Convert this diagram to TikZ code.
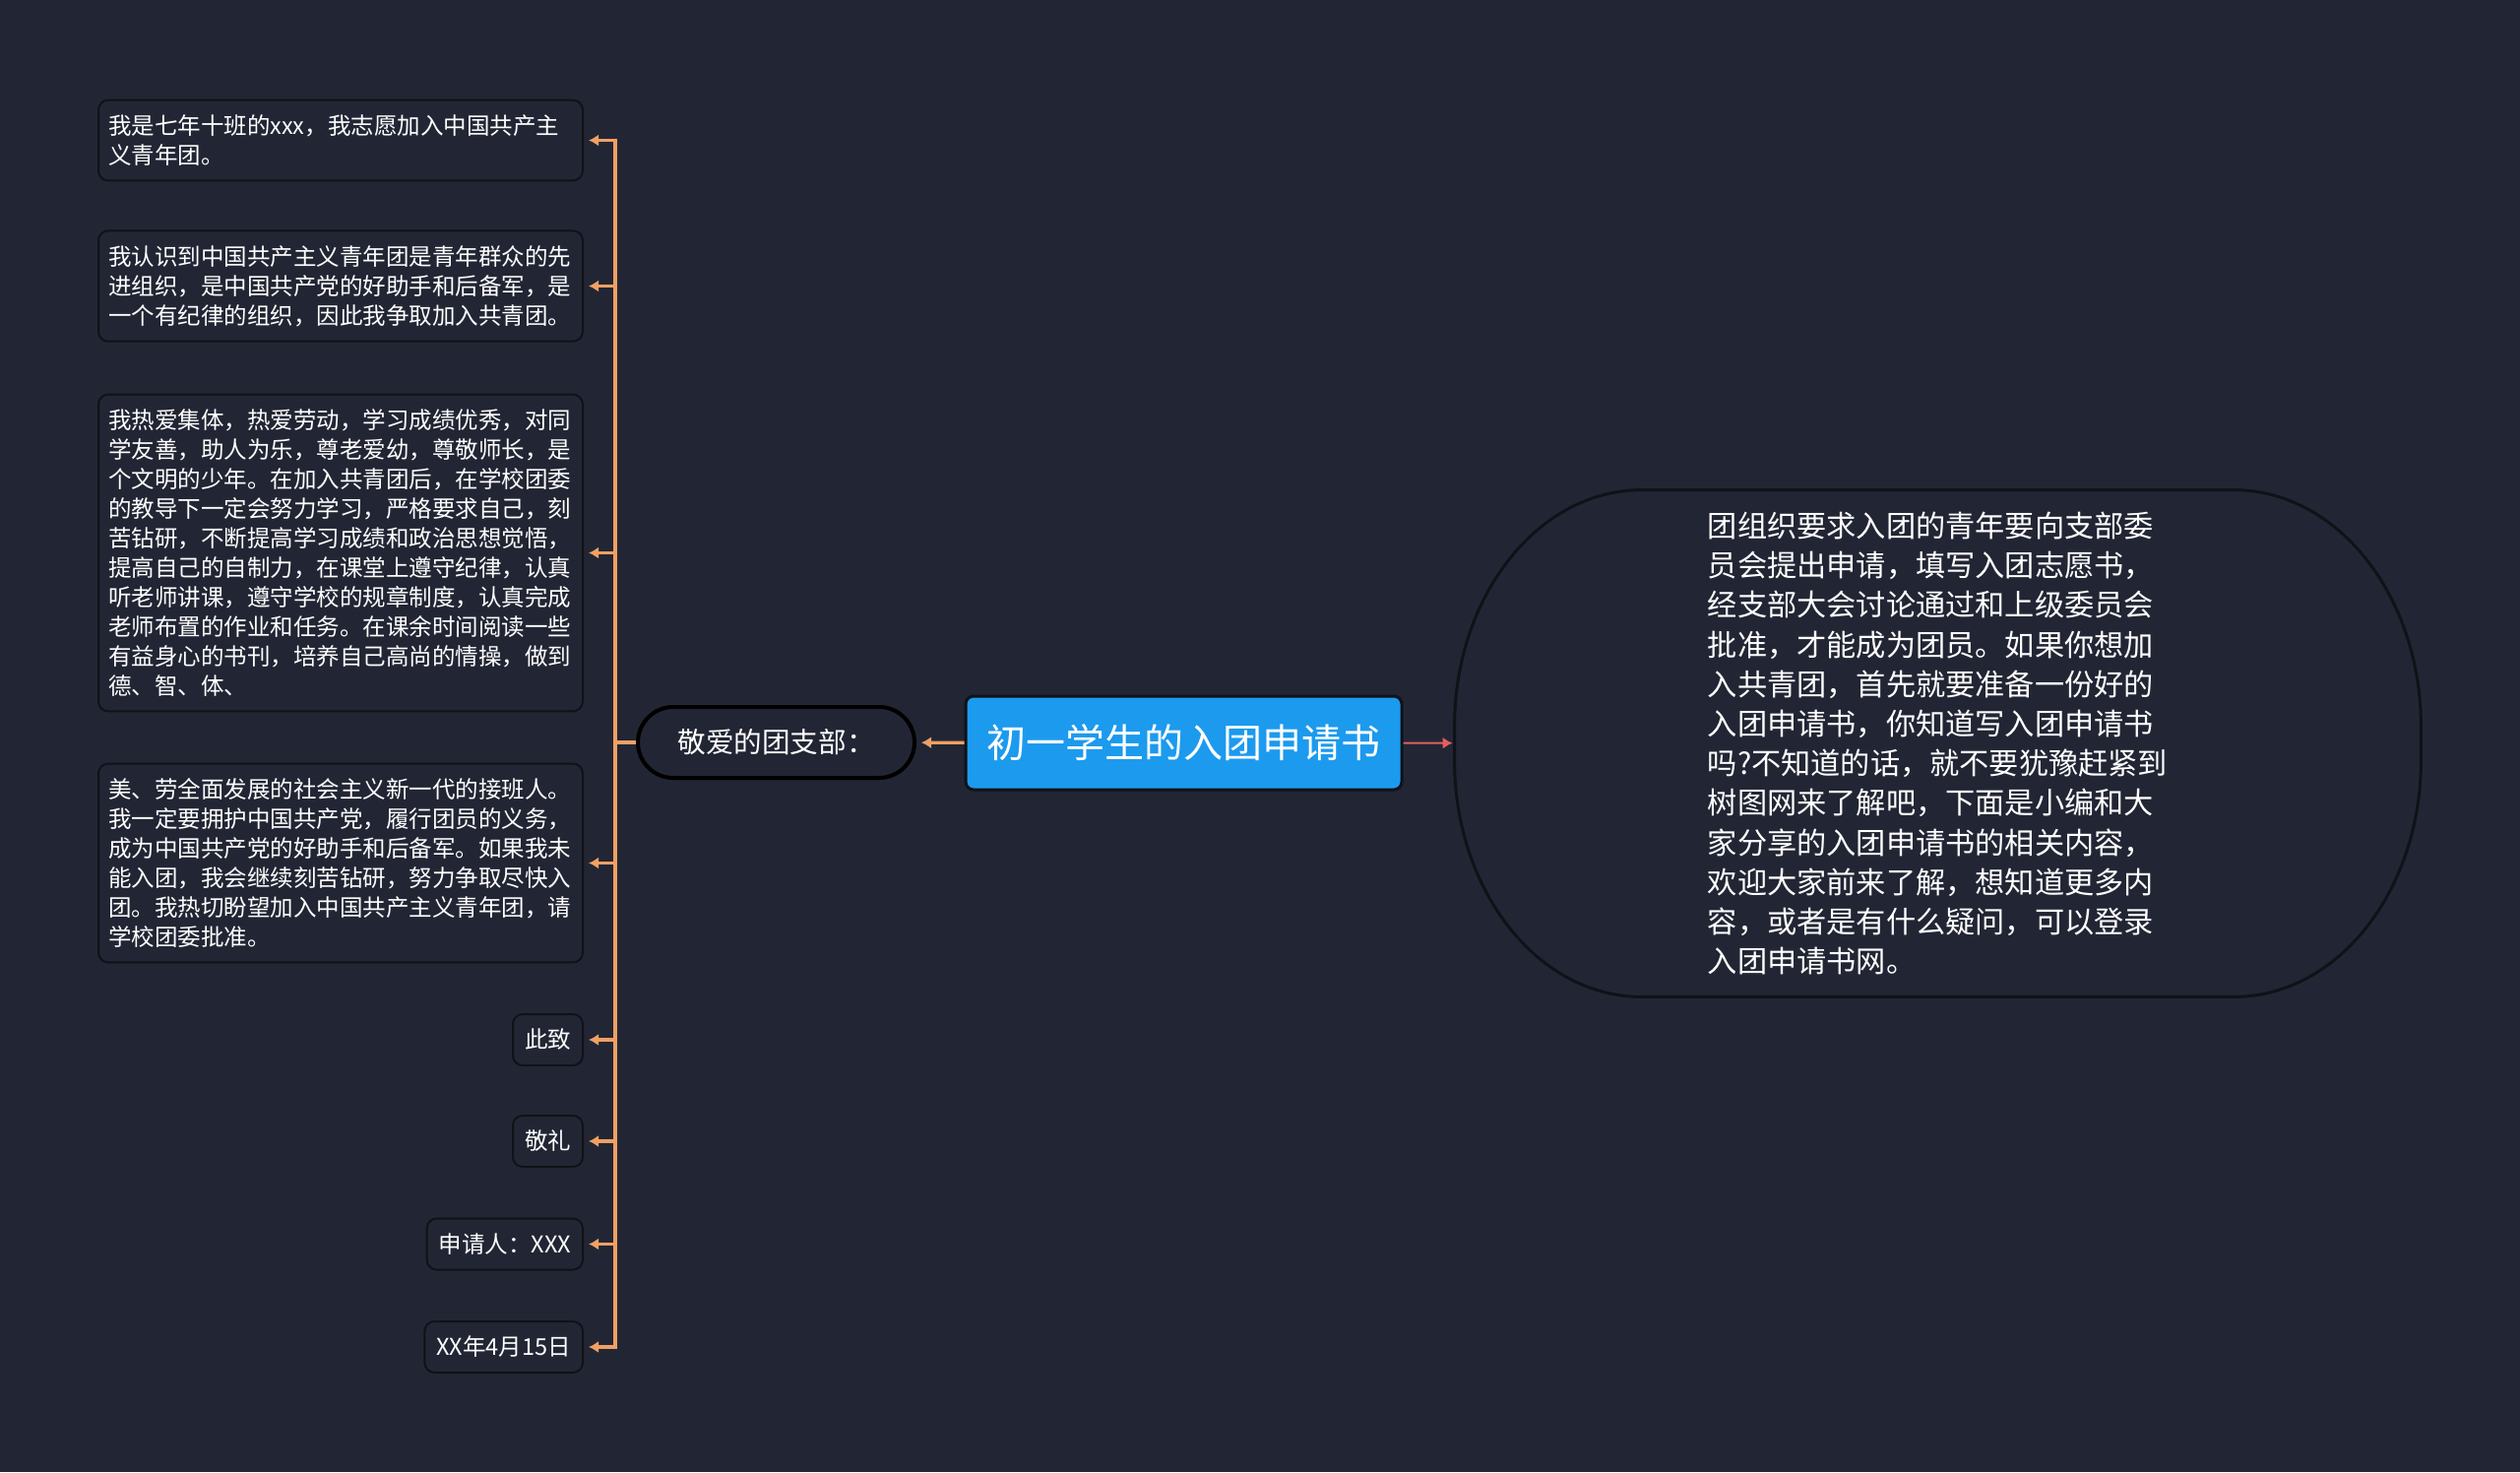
\documentclass[tikz,border=0pt]{standalone}
\usepackage{fontspec}
\setmainfont{Noto Sans CJK SC}
\usepackage{xcolor}
\usetikzlibrary{positioning,arrows.meta}

\definecolor{bgcol}{RGB}{34,38,52}
\definecolor{edgecol}{RGB}{16,18,24}
\definecolor{branchcol}{RGB}{240,160,100}
\definecolor{rootcol}{RGB}{28,154,238}
\definecolor{linkcol}{RGB}{226,94,96}

\begin{document}
\begin{tikzpicture}[
  x=0.5pt, y=-0.5pt, text=white,
  >={Latex[length=5pt,width=6pt]},
  leaf/.style={draw=edgecol,line width=1pt,fill=bgcol,rounded corners=5pt,
    anchor=east,font=\fontsize{11.75}{15}\selectfont,inner xsep=5pt,inner ysep=7.5pt},
  wideleaf/.style={leaf,text width=236pt,align=left},
  shortleaf/.style={leaf,minimum height=26pt,inner xsep=6pt},
  branch/.style={->,draw=branchcol,line width=1.6pt,shorten >=2.5pt},
  root/.style={draw=edgecol,line width=1.5pt,fill=rootcol,rounded corners=4pt,
    minimum width=221.5pt,minimum height=47.5pt,font=\fontsize{20}{24}\selectfont},
  pill/.style={draw=black,line width=2pt,fill=bgcol,rounded corners=18pt,
    minimum width=140.5pt,minimum height=36pt,font=\fontsize{14.3}{18}\selectfont},
  bubble/.style={draw=edgecol,line width=1.5pt,fill=bgcol}
]
\fill[bgcol] (0,0) rectangle (2560,1495);
\useasboundingbox (0,0) rectangle (2560,1495);

% centre and its two sides
\node[root] (root) at (1202.5,754.5) {初一学生的入团申请书};
\node[pill] (jing) at (788.5,754) {敬爱的团支部：};
\node[minimum width=490.5pt,minimum height=257pt] (intro) at (1968.5,755) {};
\draw[bubble] ([xshift=95pt]intro.north west) -- ([xshift=-95pt]intro.north east)
  arc[start angle=90,end angle=0,x radius=95pt,y radius=120pt]
  -- ([yshift=120pt]intro.south east)
  arc[start angle=0,end angle=-90,x radius=95pt,y radius=120pt]
  -- ([xshift=95pt]intro.south west)
  arc[start angle=270,end angle=180,x radius=95pt,y radius=120pt]
  -- ([yshift=-120pt]intro.north west)
  arc[start angle=180,end angle=90,x radius=95pt,y radius=120pt] -- cycle;
\node[align=left,font=\fontsize{15.1}{20.1}\selectfont] (introtext) at (intro.center) {%
团组织要求入团的青年要向支部委\\
员会提出申请，填写入团志愿书，\\
经支部大会讨论通过和上级委员会\\
批准，才能成为团员。如果你想加\\
入共青团，首先就要准备一份好的\\
入团申请书，你知道写入团申请书\\
吗?不知道的话，就不要犹豫赶紧到\\
树图网来了解吧，下面是小编和大\\
家分享的入团申请书的相关内容，\\
欢迎大家前来了解，想知道更多内\\
容，或者是有什么疑问，可以登录\\
入团申请书网。};

\draw[->,draw=linkcol,line width=1pt,shorten >=1pt] (root) -- (intro);
\draw[branch] (root) -- (jing);

% letter body
\node[wideleaf] (b1) at (593,142.5) {我是七年十班的xxx，我志愿加入中国共产主\\义青年团。};
\node[wideleaf] (b2) at (593,290.5) {我认识到中国共产主义青年团是青年群众的先\\
进组织，是中国共产党的好助手和后备军，是\\
一个有纪律的组织，因此我争取加入共青团。};
\node[wideleaf] (b3) at (593,561.5) {我热爱集体，热爱劳动，学习成绩优秀，对同\\
学友善，助人为乐，尊老爱幼，尊敬师长，是\\
个文明的少年。在加入共青团后，在学校团委\\
的教导下一定会努力学习，严格要求自己，刻\\
苦钻研，不断提高学习成绩和政治思想觉悟，\\
提高自己的自制力，在课堂上遵守纪律，认真\\
听老师讲课，遵守学校的规章制度，认真完成\\
老师布置的作业和任务。在课余时间阅读一些\\
有益身心的书刊，培养自己高尚的情操，做到\\
德、智、体、};
\node[wideleaf] (b4) at (593,876.5) {美、劳全面发展的社会主义新一代的接班人。\\
我一定要拥护中国共产党，履行团员的义务，\\
成为中国共产党的好助手和后备军。如果我未\\
能入团，我会继续刻苦钻研，努力争取尽快入\\
团。我热切盼望加入中国共产主义青年团，请\\
学校团委批准。};
\node[shortleaf] (cizhi) at (593,1056) {此致};
\node[shortleaf] (jingli) at (593,1159) {敬礼};
\node[shortleaf] (sign) at (593,1263.5) {申请人：XXX};
\node[shortleaf] (date) at (593,1368) {XX年4月15日};

\coordinate[left=10.5pt of jing.west] (fork);
\foreach \n in {b1,b2,b3,b4,cizhi,jingli,sign,date}
  \draw[branch] (jing.west) -- (fork) |- (\n.east);
\end{tikzpicture}
\end{document}
